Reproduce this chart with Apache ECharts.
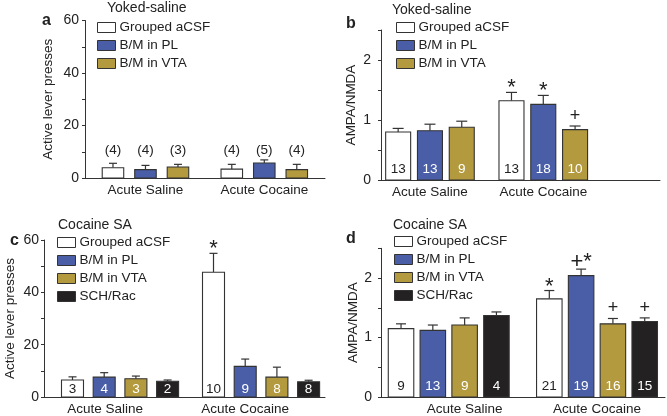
<!DOCTYPE html>
<html lang="en">
<head>
    <meta charset="UTF-8">
    <title>AMPA/NMDA and lever presses</title>
    <script src="https://cdn.jsdelivr.net/npm/echarts@6/dist/echarts.min.js"></script>
    <style>
        html, body { margin: 0; padding: 0; background: #fff; }
    </style>
</head>
<body>
    <div id="main" style="width: 667px;height: 416px;"></div>
<script>
    var FONT = '"Liberation Sans", Arial, sans-serif';

    var categories = ['Acute Saline', 'Acute Cocaine'];
    var groupNames = ['Grouped aCSF', 'B/M in PL', 'B/M in VTA', 'SCH/Rac'];
    var groupColors = ['#ffffff', '#4a5ea8', '#b39a3e', '#242122'];

    // a: yoked-saline, active lever presses  (rows = groups, cols = categories)
    var aMeans = [[3.9, 3.4], [3.2, 5.7], [4.2, 3.2]];
    var aSems = [[1.7, 1.8], [1.6, 1.2], [1.0, 2.0]];
    var aCounts = [[4, 4], [4, 5], [3, 4]];

    // b: yoked-saline, AMPA/NMDA
    var bMeans = [[0.80, 1.32], [0.82, 1.26], [0.88, 0.84]];
    var bSems = [[0.06, 0.14], [0.11, 0.15], [0.10, 0.06]];
    var bCounts = [[13, 13], [13, 18], [9, 10]];
    var bMarks = [['', '*'], ['', '*'], ['', '+']];

    // c: cocaine SA, active lever presses
    var cMeans = [[6.5, 47.7], [7.6, 11.7], [7.0, 7.6], [6.0, 5.8]];
    var cSems = [[1.2, 7.2], [1.7, 2.8], [1.0, 3.8], [0.5, 0.6]];
    var cCounts = [[3, 10], [4, 9], [3, 8], [2, 8]];
    var cMarks = [['', '*'], ['', ''], ['', ''], ['', '']];

    // d: cocaine SA, AMPA/NMDA
    var dMeans = [[1.15, 1.65], [1.12, 2.04], [1.21, 1.23], [1.37, 1.27]];
    var dSems = [[0.08, 0.14], [0.09, 0.11], [0.12, 0.09], [0.06, 0.06]];
    var dCounts = [[9, 21], [13, 19], [9, 16], [4, 15]];
    var dMarks = [['', '*'], ['', '+*'], ['', '+'], ['', '+']];

    // layout of the four panels
    var panels = [
        {grid: {left: 85, top: 20.5, width: 240, height: 157.5}, xMin: -0.509, xMax: 1.511,
         yMax: 60, yStep: 10, yLabelEvery: 20, yName: 'Active lever presses', nameGap: 30, labelMargin: 6,
         barW: 21.5, pitch: 32.5, shift: [0, 0], cap: 8, nAbove: true,
         means: aMeans, sems: aSems, counts: aCounts, marks: null,
         legendLeft: 97, legendTop: 20.5},
        {grid: {left: 381, top: 30, width: 279, height: 150}, xMin: -0.432, xMax: 2.03,
         yMax: 2.5, yStep: 0.5, yLabelEvery: 1, yName: 'AMPA/NMDA', nameGap: 23, labelMargin: 10,
         barW: 25, pitch: 31.8, shift: [0, 0], cap: 11, nOff: 11,
         means: bMeans, sems: bSems, counts: bCounts, marks: bMarks,
         legendLeft: 396, legendTop: 20.5},
        {grid: {left: 44, top: 240, width: 281, height: 158}, xMin: -0.436, xMax: 1.571,
         yMax: 60, yStep: 10, yLabelEvery: 20, yName: 'Active lever presses', nameGap: 27, labelMargin: 5,
         barW: 22, pitch: 31.7, shift: [15, 16], cap: 8, nOff: 8,
         means: cMeans, sems: cSems, counts: cCounts, marks: cMarks,
         legendLeft: 57, legendTop: 235.5},
        {grid: {left: 381, top: 248.3, width: 284, height: 150}, xMin: -0.633, xMax: 1.514,
         yMax: 2.5, yStep: 0.5, yLabelEvery: 1, yName: 'AMPA/NMDA', nameGap: 21, labelMargin: 9,
         barW: 25.5, pitch: 31.8, shift: [-16, 0], cap: 10, nOff: 11,
         means: dMeans, sems: dSems, counts: dCounts, marks: dMarks,
         legendLeft: 394, legendTop: 234.5}
    ];

    function makeRender(p, gi, k) {
        return function (params, api) {
            var ci = api.value(0);
            var m = api.value(1);
            var s = api.value(2);
            var base = api.coord([ci, 0]);
            var top = api.coord([ci, m]);
            var et = api.coord([ci, m + s]);
            var cx = base[0] + p.shift[ci] + (gi - (k - 1) / 2) * p.pitch;
            var children = [
                {type: 'line', shape: {x1: cx, y1: top[1], x2: cx, y2: et[1]},
                 style: {stroke: '#333', lineWidth: 1.2}},
                {type: 'line', shape: {x1: cx - p.cap / 2, y1: et[1], x2: cx + p.cap / 2, y2: et[1]},
                 style: {stroke: '#333', lineWidth: 1.2}},
                {type: 'rect', shape: {x: cx - p.barW / 2, y: top[1], width: p.barW, height: base[1] - top[1]},
                 style: {fill: groupColors[gi], stroke: '#333', lineWidth: 1.1}}
            ];
            var n = p.counts[gi][params.dataIndex];
            if (p.nAbove) {
                children.push({type: 'text', style: {text: '(' + n + ')', x: cx, y: base[1] - 28,
                    textAlign: 'center', textVerticalAlign: 'middle', font: '13.5px ' + FONT, fill: '#222'}});
            } else {
                children.push({type: 'text', style: {text: String(n), x: cx, y: base[1] - p.nOff,
                    textAlign: 'center', textVerticalAlign: 'middle', font: '13.5px ' + FONT,
                    fill: gi === 0 ? '#222' : '#fff'}});
            }
            var mk = p.marks ? p.marks[gi][params.dataIndex] : '';
            if (mk) {
                var dy = mk === '+' ? 10 : (mk === '*' ? 4 : 7);
                children.push({type: 'text', style: {text: mk, x: cx, y: et[1] - dy,
                    textAlign: 'center', textVerticalAlign: 'middle',
                    font: (mk === '+' ? '18px ' : '22px ') + FONT, fill: '#222'}});
            }
            return {type: 'group', children: children};
        };
    }

    var grids = [], xAxes = [], yAxes = [], series = [], legends = [];
    panels.forEach(function (p, pi) {
        grids.push(p.grid);
        xAxes.push({
            gridIndex: pi, type: 'value', min: p.xMin, max: p.xMax,
            axisLine: {show: true, onZero: false, lineStyle: {color: '#333', width: 1}},
            axisTick: {show: false}, splitLine: {show: false},
            axisLabel: {customValues: [0, 1], margin: 5, color: '#222', fontSize: 13.5, fontFamily: FONT,
                formatter: function (v) { return categories[Math.round(v)]; }}
        });
        yAxes.push({
            gridIndex: pi, type: 'value', min: 0, max: p.yMax, interval: p.yStep,
            name: p.yName, nameLocation: 'middle', nameGap: p.nameGap,
            nameTextStyle: {color: '#222', fontSize: 13.5, fontFamily: FONT},
            axisLine: {show: true, onZero: false, lineStyle: {color: '#333', width: 1}},
            axisTick: {show: true, length: 3, lineStyle: {color: '#333'}},
            splitLine: {show: false},
            axisLabel: {margin: p.labelMargin, color: '#222', fontSize: 14, fontFamily: FONT,
                formatter: function (v) {
                    var r = v / p.yLabelEvery;
                    return Math.abs(r - Math.round(r)) < 1e-6 ? String(v) : '';
                }}
        });
        var k = p.means.length;
        var legendData = [];
        for (var gi = 0; gi < k; gi++) {
            var data = categories.map(function (c, ci) {
                return [ci, p.means[gi][ci], p.sems[gi][ci]];
            });
            series.push({
                type: 'custom', name: groupNames[gi], xAxisIndex: pi, yAxisIndex: pi,
                itemStyle: {color: groupColors[gi], borderColor: '#333', borderWidth: 1},
                encode: {x: 0, y: 1},
                renderItem: makeRender(p, gi, k),
                data: data
            });
            legendData.push({name: groupNames[gi],
                itemStyle: {color: groupColors[gi], borderColor: '#333', borderWidth: 1}});
        }
        legends.push({
            orient: 'vertical', left: p.legendLeft, top: p.legendTop, padding: 0,
            icon: 'rect', itemWidth: 18, itemHeight: 10, itemGap: 4, selectedMode: false,
            textStyle: {fontSize: 13.5, lineHeight: 13, color: '#222', fontFamily: FONT, padding: [0, 0, 0, -1]},
            data: legendData
        });
    });

    var texts = [
        ['a', 42, 21, true], ['Yoked-saline', 107, 9, false],
        ['b', 346, 23.5, true], ['Yoked-saline', 392, 11, false],
        ['c', 10, 241, true], ['Cocaine SA', 58, 226, false],
        ['d', 346, 239, true], ['Cocaine SA', 393, 226, false]
    ];

    var myChart = echarts.init(document.getElementById('main'));
    myChart.setOption({
        animation: false,
        grid: grids,
        xAxis: xAxes,
        yAxis: yAxes,
        legend: legends,
        graphic: texts.map(function (t) {
            return {type: 'text', left: t[1], top: t[2] - 8, silent: true,
                style: {text: t[0], font: (t[3] ? 'bold 16px ' : '14px ') + FONT, fill: '#222'}};
        }),
        series: series
    });
</script>
</body>
</html>
